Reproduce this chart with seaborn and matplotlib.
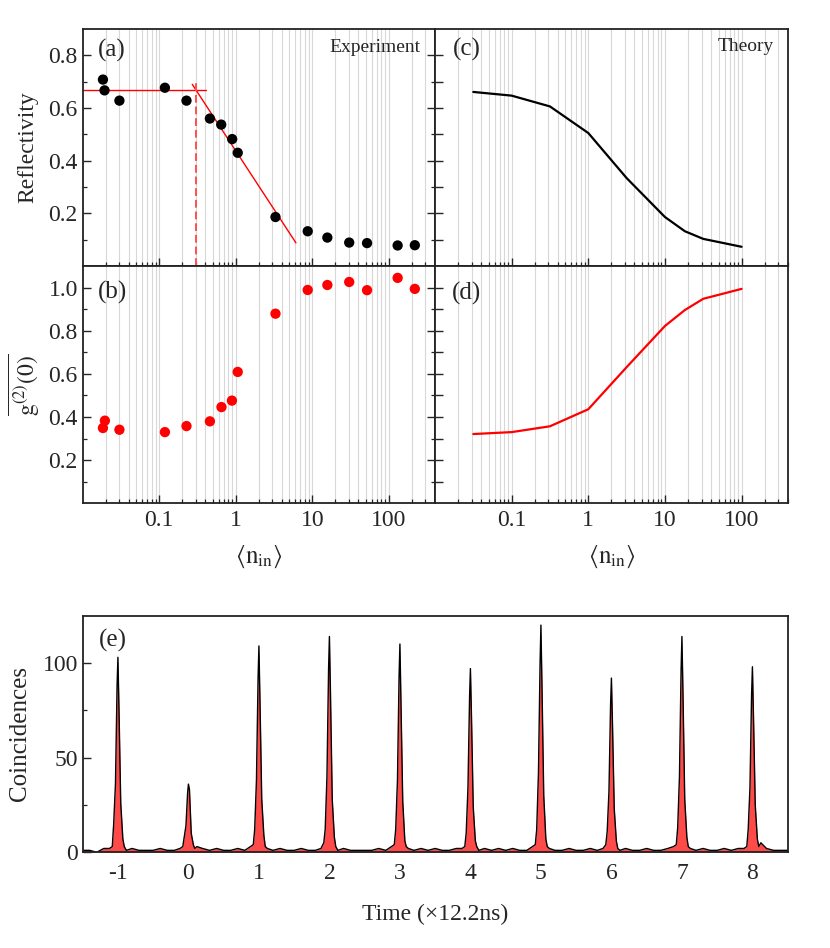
import numpy as np
import pandas as pd
import matplotlib
matplotlib.use('Agg')
import matplotlib.pyplot as plt
import matplotlib.ticker as mticker
import seaborn as sns

# ---------------- data ----------------
# (a) experiment: reflectivity vs mean photon number
n_exp = [0.0184, 0.0193, 0.0302, 0.1186, 0.227, 0.459, 0.645, 0.897, 1.06,
         3.3, 8.7, 15.7, 30.3, 51.8, 130, 218]
refl_exp = [0.708, 0.667, 0.628, 0.677, 0.628, 0.560, 0.537, 0.482, 0.430,
            0.186, 0.132, 0.108, 0.089, 0.087, 0.078, 0.079]

# (b) experiment: g2(0) vs mean photon number
n_g2 = [0.0184, 0.0195, 0.0302, 0.1186, 0.227, 0.459, 0.65, 0.89, 1.06,
        3.3, 8.7, 15.7, 30.3, 51.8, 130, 218]
g2_exp = [0.349, 0.383, 0.341, 0.330, 0.358, 0.380, 0.446, 0.476, 0.609,
          0.879, 0.989, 1.012, 1.026, 0.988, 1.045, 0.994]

# fit lines drawn in (a)
flat_x = [0.01, 0.41]
flat_y = [0.668, 0.668]
slope_x = [0.27, 6.1]
slope_y = [0.690, 0.088]
knee_x = [0.306, 0.306]
knee_y = [0.0, 0.695]

# (c), (d) theory
n_th = [0.0316, 0.1, 0.316, 1.0, 3.16, 10, 18.2, 31.6, 100]
refl_th = [0.661, 0.647, 0.606, 0.505, 0.334, 0.186, 0.132, 0.103, 0.073]
g2_th = [0.321, 0.330, 0.357, 0.436, 0.631, 0.822, 0.896, 0.948, 0.994]

# (e) coincidence histogram, one window per pulse
pulse_centers = [-1, 0, 1, 2, 3, 4, 5, 6, 7, 8]
window_offsets = [-0.5, -0.4, -0.3, -0.2, -0.12, -0.08, -0.06, -0.035, -0.012,
                  0.0, 0.015, 0.04, 0.07, 0.09, 0.12, 0.2, 0.3, 0.4]
window_counts = [
    [1, 1, 0, 2, 2, 3, 15, 36, 88, 103, 76, 26, 7, 3, 1, 2, 1, 1],
    [1, 2, 1, 1, 2, 3, 8, 14, 31, 36, 33, 10, 4, 2, 3, 2, 1, 2],
    [1, 1, 2, 1, 3, 4, 12, 38, 92, 109, 80, 28, 9, 3, 2, 1, 2, 1],
    [1, 2, 1, 1, 2, 5, 12, 40, 97, 114, 84, 28, 8, 3, 1, 2, 1, 1],
    [1, 1, 2, 1, 3, 4, 12, 38, 93, 110, 80, 27, 6, 3, 2, 1, 2, 1],
    [2, 1, 1, 2, 2, 3, 10, 34, 82, 97, 72, 24, 6, 3, 1, 2, 1, 2],
    [1, 2, 1, 1, 3, 4, 12, 42, 100, 120, 88, 30, 7, 3, 2, 1, 1, 2],
    [1, 1, 2, 1, 2, 4, 11, 32, 78, 92, 68, 23, 6, 2, 1, 2, 1, 1],
    [2, 1, 1, 2, 3, 4, 13, 40, 96, 114, 84, 28, 8, 3, 2, 1, 2, 1],
    [1, 2, 1, 2, 2, 3, 12, 34, 83, 98, 72, 25, 7, 3, 5, 2, 1, 1],
]
tail_time = [8.5]
tail_count = [1]

# ---------------- style ----------------
sns.set_theme(style='ticks')
plt.rcParams['font.family'] = ['Liberation Serif', 'DejaVu Serif']
plt.rcParams['mathtext.fontset'] = 'stix'
plt.rcParams['axes.edgecolor'] = '#222222'
plt.rcParams['axes.linewidth'] = 1.3

fig = plt.figure(figsize=(8.3, 9.48), dpi=100)
ax_a = fig.add_axes([0.0996, 0.7194, 0.4245, 0.2500])
ax_b = fig.add_axes([0.0996, 0.4691, 0.4245, 0.2503])
ax_c = fig.add_axes([0.5241, 0.7194, 0.4250, 0.2500])
ax_d = fig.add_axes([0.5241, 0.4691, 0.4250, 0.2503])
ax_e = fig.add_axes([0.0996, 0.1010, 0.8494, 0.2496])

GRID = '#d8d8d8'
RED = '#ff0000'
TICK_FS = 17
PANEL_FS = 18


def log_axis(ax, show_labels):
    ax.set_xscale('log')
    ax.set_xlim(0.01, 400)
    ax.xaxis.set_major_locator(mticker.FixedLocator([0.1, 1, 10, 100]))
    ax.xaxis.set_minor_locator(mticker.LogLocator(base=10, subs=np.arange(2, 10), numticks=20))
    ax.xaxis.set_minor_formatter(mticker.NullFormatter())
    if show_labels:
        ax.xaxis.set_major_formatter(mticker.FixedFormatter(['0.1', '1', '10', '100']))
    else:
        ax.xaxis.set_major_formatter(mticker.NullFormatter())
    ax.grid(True, which='both', axis='x', color=GRID, lw=0.8)
    ax.grid(False, axis='y')
    ax.set_axisbelow(True)
    ax.tick_params(axis='x', which='major', direction='in', length=6, width=1,
                   labelsize=TICK_FS, pad=5)
    ax.tick_params(axis='x', which='minor', direction='in', length=3, width=0.9)


# ---------------- (a) ----------------
log_axis(ax_a, False)
ax_a.plot(flat_x, flat_y, color=RED, lw=1.0)
ax_a.plot(slope_x, slope_y, color=RED, lw=1.0)
ax_a.plot(knee_x, knee_y, color='#ff5050', lw=1.4, ls=(0, (4, 2)))
sns.scatterplot(x=n_exp, y=refl_exp, ax=ax_a, color='black', s=55,
                edgecolor='none', zorder=5)
ax_a.set_ylim(0, 0.9)
ax_a.yaxis.set_major_locator(mticker.FixedLocator([0.2, 0.4, 0.6, 0.8]))
ax_a.yaxis.set_minor_locator(mticker.FixedLocator([0.1, 0.3, 0.5, 0.7]))
ax_a.yaxis.set_major_formatter(mticker.FormatStrFormatter('%.1f'))
ax_a.tick_params(axis='y', which='both', direction='in', left=True, right=True, labelsize=TICK_FS)
ax_a.tick_params(axis='y', which='major', length=6, width=1)
ax_a.tick_params(axis='y', which='minor', length=3, width=0.9)
ax_a.set_ylabel('Reflectivity', fontsize=17, labelpad=7)
ax_a.text(0.043, 0.91, '(a)', transform=ax_a.transAxes, fontsize=PANEL_FS, va='center')
ax_a.text(0.96, 0.923, 'Experiment', transform=ax_a.transAxes, fontsize=14,
          va='center', ha='right')

# ---------------- (b) ----------------
log_axis(ax_b, True)
sns.scatterplot(x=n_g2, y=g2_exp, ax=ax_b, color=RED, s=55,
                edgecolor='none', zorder=5)
ax_b.set_ylim(0, 1.1)
ax_b.yaxis.set_major_locator(mticker.FixedLocator([0.2, 0.4, 0.6, 0.8, 1.0]))
ax_b.yaxis.set_minor_locator(mticker.FixedLocator([0.1, 0.3, 0.5, 0.7, 0.9]))
ax_b.yaxis.set_major_formatter(mticker.FormatStrFormatter('%.1f'))
ax_b.tick_params(axis='y', which='both', direction='in', left=True, right=True, labelsize=TICK_FS)
ax_b.tick_params(axis='y', which='major', length=6, width=1)
ax_b.tick_params(axis='y', which='minor', length=3, width=0.9)
ax_b.set_ylabel(r'$\overline{\mathrm{g}^{(2)}(0)}$', fontsize=17, labelpad=5)
ax_b.set_xlabel(r'$\langle\mathrm{n}_{\mathrm{in}}\rangle$', fontsize=18, labelpad=9)
ax_b.text(0.043, 0.89, '(b)', transform=ax_b.transAxes, fontsize=PANEL_FS, va='center')

# ---------------- (c) ----------------
log_axis(ax_c, False)
sns.lineplot(x=n_th, y=refl_th, ax=ax_c, color='black', lw=1.6)
ax_c.set_ylim(0, 0.9)
ax_c.yaxis.set_major_locator(mticker.FixedLocator([0.1, 0.2, 0.3, 0.4, 0.5, 0.6, 0.7, 0.8]))
ax_c.yaxis.set_major_formatter(mticker.NullFormatter())
ax_c.tick_params(axis='y', direction='in', left=True, right=False, length=6, width=1)
ax_c.text(0.05, 0.914, '(c)', transform=ax_c.transAxes, fontsize=PANEL_FS, va='center')
ax_c.text(0.961, 0.925, 'Theory', transform=ax_c.transAxes, fontsize=14,
          va='center', ha='right')

# ---------------- (d) ----------------
log_axis(ax_d, True)
sns.lineplot(x=n_th, y=g2_th, ax=ax_d, color=RED, lw=1.6)
ax_d.set_ylim(0, 1.1)
ax_d.yaxis.set_major_locator(mticker.FixedLocator([0.1, 0.2, 0.3, 0.4, 0.5, 0.6, 0.7, 0.8, 0.9, 1.0]))
ax_d.yaxis.set_major_formatter(mticker.NullFormatter())
ax_d.tick_params(axis='y', direction='in', left=True, right=False, length=6, width=1)
ax_d.set_xlabel(r'$\langle\mathrm{n}_{\mathrm{in}}\rangle$', fontsize=18, labelpad=9)
ax_d.text(0.048, 0.885, '(d)', transform=ax_d.transAxes, fontsize=PANEL_FS, va='center')

# ---------------- (e) ----------------
times, counts = [], []
for c, row in zip(pulse_centers, window_counts):
    times += [c + o for o in window_offsets]
    counts += row
times += tail_time
counts += tail_count
hist = pd.DataFrame({'time': times, 'counts': counts})

ax_e.fill_between(hist['time'], 0, hist['counts'], color='#ff4a4a', lw=0)
sns.lineplot(data=hist, x='time', y='counts', ax=ax_e, color='black', lw=1.0,
             estimator=None, sort=False)
ax_e.set_xlim(-1.5, 8.5)
ax_e.set_ylim(0, 125)
ax_e.set_xticks(pulse_centers)
ax_e.set_xticklabels([str(c) for c in pulse_centers])
ax_e.yaxis.set_major_locator(mticker.FixedLocator([0, 50, 100]))
ax_e.yaxis.set_minor_locator(mticker.FixedLocator([25, 75]))
ax_e.tick_params(axis='x', length=0, labelsize=TICK_FS, pad=8)
ax_e.tick_params(axis='y', which='both', direction='in', labelsize=TICK_FS)
ax_e.tick_params(axis='y', which='major', length=6, width=1)
ax_e.tick_params(axis='y', which='minor', length=3, width=0.9)
ax_e.set_xlabel('Time (×12.2ns)', fontsize=17, labelpad=14)
ax_e.set_ylabel('Coincidences', fontsize=18, labelpad=8)
ax_e.text(0.0235, 0.897, '(e)', transform=ax_e.transAxes, fontsize=PANEL_FS, va='center')

for ax in [ax_a, ax_b, ax_c, ax_d, ax_e]:
    for s in ax.spines.values():
        s.set_visible(True)

fig.savefig('out.png', dpi=100)
